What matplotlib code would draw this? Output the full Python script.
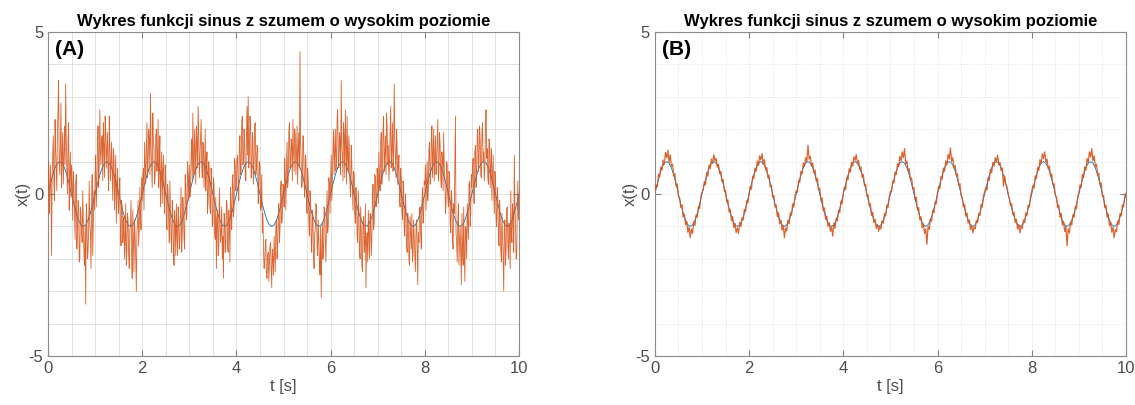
import matplotlib
matplotlib.use("Agg")
import matplotlib.pyplot as plt
import numpy as np
from matplotlib.ticker import MultipleLocator

plt.rcParams['font.family'] = ['Liberation Sans', 'DejaVu Sans']
plt.rcParams['axes.unicode_minus'] = False

title = "Wykres funkcji sinus z szumem o wysokim poziomie"
panel_tags = ["(A)", "(B)"]
x_ticks = [0, 2, 4, 6, 8, 10]
y_ticks = [-5, 0, 5]

# clean sine, sampled every 0.05 s
clean = [
    0, .309, .588, .809, .951, 1, .951, .809, .588, .309, 0, -.309, -.588, -.809, -.951, -1, -.951, -.809, -.588, -.309,
    0, .309, .588, .809, .951, 1, .951, .809, .588, .309, 0, -.309, -.588, -.809, -.951, -1, -.951, -.809, -.588, -.309,
    0, .309, .588, .809, .951, 1, .951, .809, .588, .309, 0, -.309, -.588, -.809, -.951, -1, -.951, -.809, -.588, -.309,
    0, .309, .588, .809, .951, 1, .951, .809, .588, .309, 0, -.309, -.588, -.809, -.951, -1, -.951, -.809, -.588, -.309,
    0, .309, .588, .809, .951, 1, .951, .809, .588, .309, 0, -.309, -.588, -.809, -.951, -1, -.951, -.809, -.588, -.309,
    0, .309, .588, .809, .951, 1, .951, .809, .588, .309, 0, -.309, -.588, -.809, -.951, -1, -.951, -.809, -.588, -.309,
    0, .309, .588, .809, .951, 1, .951, .809, .588, .309, 0, -.309, -.588, -.809, -.951, -1, -.951, -.809, -.588, -.309,
    0, .309, .588, .809, .951, 1, .951, .809, .588, .309, 0, -.309, -.588, -.809, -.951, -1, -.951, -.809, -.588, -.309,
    0, .309, .588, .809, .951, 1, .951, .809, .588, .309, 0, -.309, -.588, -.809, -.951, -1, -.951, -.809, -.588, -.309,
    0, .309, .588, .809, .951, 1, .951, .809, .588, .309, 0, -.309, -.588, -.809, -.951, -1, -.951, -.809, -.588, -.309,
    0,
]

# measured signal, strong noise, sampled every 0.0125 s (one row = half a second)
noisy_high = [
    0.2, 1.0, -0.6, -0.1, 0.9, 0.3, -1.9, 0.5, 1.1, 1.8, 0.4, -0.2, 2.3, 1.4, 0.8, 0.1, 1.9, 2.6, 3.5, 1.0, 0.6, 1.5, 2.8, 0.2, 1.2, 1.9, 0.3, 1.1, 2.1, 0.9, 3.4, 1.7, 0.7, 0.0, 1.6, 2.2, -0.5, 0.6, 1.3, -0.1,
    0.9, 0.2, -0.8, 0.7, 0.2, -0.6, -1.4, 0.3, 0.6, -1.7, -1.1, -0.2, -0.3, -2.1, -2.0, -0.4, -0.6, -1.2, -1.5, 0.1, -0.9, -1.8, -2.2, -1.0, -3.4, -0.3, -0.7, -2.0, -1.8, -1.1, 0.4, -0.9, -1.2, -2.3, -0.3, 0.6, -1.9, -0.8, 0.1, -0.5,
    0.6, 1.2, -0.4, 0.3, 1.5, 2.1, 0.2, 0.9, 2.6, 1.3, 0.9, 1.7, 1.8, 0.4, 2.2, 1.5, 0.5, 2.4, 2.0, 0.8, 1.3, 1.9, 0.7, 0.1, 2.4, 1.5, 0.4, 1.0, 1.6, 0.6, -0.2, 1.4, 1.1, -0.5, 0.3, 1.2, -0.9, 0.1, 0.8, -0.3,
    -0.6, 0.2, 0.5, -1.1, -1.6, -0.2, -0.4, -1.5, -1.2, -0.7, -2.0, -1.4, -0.3, -2.2, -1.7, -0.6, -0.8, -1.9, -2.3, -1.1, -1.0, -0.2, -1.9, -2.6, -0.5, -1.4, -2.4, -0.8, -1.3, -2.0, -3.0, -1.2, -0.9, -0.2, -1.6, -1.0, 0.2, -0.7, -1.1, 0.5,
    -0.2, 0.6, 0.8, -0.5, 1.6, 0.9, 0.3, 1.4, 2.2, 0.5, 1.0, 2.0, 1.7, 0.6, 3.1, 1.5, 0.9, 0.2, 2.5, 1.6, 1.4, 0.3, 0.6, 1.8, 2.0, 0.7, 1.2, 2.3, 0.2, 0.9, 1.8, -0.4, 0.5, 1.3, -0.3, 0.7, 1.2, 0.0, -0.6, 0.9,
    0.4, -0.7, -1.1, 0.3, 0.1, -0.9, -1.5, 0.4, -0.4, -1.3, -1.8, -0.2, -0.7, -1.6, -2.2, -0.5, -1.0, -1.9, -0.3, -1.2, -1.9, -0.4, -0.8, -1.7, -1.4, -0.6, 0.2, -1.8, -1.2, -0.1, -0.5, -1.4, -1.7, 0.6, 0.3, -0.8, -0.6, 1.0, 0.5, -0.2,
    0.9, -0.1, 0.2, 1.2, 1.7, 0.4, 2.5, 1.1, 0.6, 2.0, 1.4, 0.3, 2.1, 1.6, 0.8, 2.7, 1.9, 0.5, 1.1, 1.8, 2.3, 0.9, 0.5, 1.6, 1.5, 0.2, 0.9, 2.0, 0.1, 0.8, 1.3, -0.6, -0.2, 1.0, 0.7, -0.4, -0.6, 0.8, 0.4, -1.0,
    -0.9, 0.5, 0.3, -1.2, -1.4, -0.1, -2.3, -0.8, -0.5, -1.9, -1.7, 0.2, -0.8, -1.5, -1.2, -0.4, -2.0, -1.3, -2.6, -0.6, -0.7, -1.8, -1.5, -0.2, -0.3, -1.6, -1.8, -0.5, -0.9, -2.1, 0.2, -0.6, -1.1, 0.4, 0.6, -0.7, -0.4, 1.1, 0.9, 0.1,
    0.3, 1.1, 1.2, 0.2, -0.2, 1.5, 1.8, 0.6, 0.7, 2.2, 2.4, 0.9, 1.0, 2.0, 1.6, 0.5, 0.4, 1.8, 2.7, 1.2, 3.0, 0.8, 1.3, 2.4, 2.1, 0.5, 0.6, 1.9, 1.7, 0.3, 1.0, 2.1, 2.2, 0.6, 0.8, 1.5, 1.4, -0.3, 0.2, 1.0,
    0.9, -0.5, -0.4, 0.6, -1.2, -0.6, -1.7, -2.3, -2.1, -1.6, -1.4, -2.5, -2.6, -1.9, -1.8, -2.7, -2.2, -1.6, -1.5, -2.3, -2.9, -1.7, -2.0, -2.5, -1.3, -1.9, -2.4, -1.0, -0.8, -2.0, -1.6, -0.7, -0.3, -1.5, -1.1, 0.2, 0.4, -0.9, -0.6, 0.3,
    0.2, -0.4, 1.1, 0.6, -0.5, 0.9, 1.6, 0.2, 0.4, 1.9, 2.2, 0.8, 0.9, 1.7, 1.5, 0.4, 2.3, 1.3, 0.7, 2.0, 1.8, 0.6, 1.2, 2.1, 0.3, 1.4, 1.9, 0.8, 4.4, 1.6, 1.0, 0.2, 0.5, 1.8, 1.7, 0.3, -0.1, 1.2, 1.1, -0.3,
    -0.6, 0.8, 0.4, -0.9, -1.3, 0.1, -0.2, -1.5, -1.8, -0.5, -0.7, -2.0, -2.3, -1.2, -1.1, -0.3, -0.4, -1.6, -1.9, -0.8, -1.4, -2.2, -2.5, -1.0, -3.2, -1.8, -0.9, -2.0, -1.7, -0.4, -0.6, -1.5, -2.1, -0.8, 0.1, -1.2, -1.0, 0.5, 0.3, -0.6,
    0.5, 1.2, -0.2, 0.4, 1.4, 2.0, 0.6, 1.3, 2.0, 0.7, 1.1, 2.3, 2.6, 1.0, 0.8, 1.9, 1.7, 0.6, 3.5, 1.5, 1.2, 0.4, 2.2, 1.8, 0.5, 2.6, 1.6, 0.3, 2.4, 1.1, 0.7, 1.8, 1.3, 0.2, -0.1, 1.5, 0.9, 0.1, -0.5, 0.7,
    0.6, -0.6, -0.9, 0.2, -0.2, -1.3, -1.5, 0.1, -0.6, -1.7, -2.0, -0.4, -1.1, -2.2, -2.4, -0.9, -0.7, -1.8, -1.6, -0.3, -2.9, -1.5, -1.2, -2.1, -0.5, -1.3, -2.0, -0.6, -0.8, -1.9, -1.4, -0.2, 0.3, -1.1, -0.9, 0.6, 0.5, -0.4, -0.3, 0.8,
    0.4, -0.3, 1.3, 0.5, 0.1, 1.6, 1.9, 0.3, 0.8, 2.0, 2.4, 0.7, 1.2, 1.8, 0.6, 2.5, 2.1, 0.9, 1.5, 0.4, 0.9, 1.9, 2.7, 0.8, 1.4, 2.2, 0.7, 1.3, 3.4, 1.7, 1.1, 0.5, 2.0, 1.4, 0.3, 0.9, 1.2, -0.2, -0.4, 0.8,
    0.5, -0.5, -0.8, 0.4, 0.2, -1.1, -1.3, 0.0, -0.5, -1.6, -1.8, -0.6, -0.9, -2.0, -2.2, -0.7, -1.2, -1.7, -0.6, -2.1, -1.9, -0.8, -1.3, -1.9, -2.4, -1.1, -0.8, -1.6, -2.8, -1.2, -1.5, -0.5, -0.4, -1.3, -1.7, -0.3, 0.2, -0.9, -0.7, 0.4,
    0.3, 0.9, -0.5, 0.4, 1.0, -0.2, 0.2, 1.4, 1.6, 0.3, 0.6, 1.7, 2.1, 0.5, 1.2, 2.0, 0.4, 1.1, 1.8, 0.6, 1.0, 1.6, 2.3, 0.4, 0.7, 1.9, 1.5, 0.5, 0.2, 1.3, 1.1, 0.1, 1.9, 0.8, 0.5, -0.6, -0.3, 1.0, 0.9, -0.1,
    -0.4, 0.7, 0.6, -0.9, -1.2, 0.1, -0.2, -1.4, -1.7, -0.3, -0.6, 0.8, 2.4, -1.2, -1.5, -2.1, -0.9, -0.3, -2.2, -1.4, -1.0, -1.9, -2.8, -0.6, -1.6, -2.2, -0.4, -1.8, -2.7, -1.0, -1.1, -2.0, -0.3, -0.9, -1.4, 0.3, 0.4, -1.0, -0.6, 0.6,
    0.2, 0.8, 1.1, -0.2, -0.3, 1.3, 1.5, 0.2, 0.6, 1.8, 2.0, 0.7, 1.0, 2.1, 1.7, 0.6, 0.5, 1.9, 2.2, 1.0, 1.3, 0.4, 0.8, 2.0, 2.6, 1.1, 1.4, 0.5, 0.3, 1.7, 1.6, 0.2, 0.9, 1.4, -0.2, 0.6, 1.2, 0.0, -0.6, 0.7,
    0.5, -0.7, -1.0, 0.2, -0.1, -1.3, -1.6, -0.2, -0.7, -1.8, -2.1, -0.6, -1.2, -1.9, -3.0, -1.0, -0.8, -2.2, -1.7, -0.5, -0.4, -1.6, -2.0, -0.9, -1.3, -2.3, 0.1, -1.2, -1.5, -0.3, -0.6, -1.8, 1.2, -0.4, -0.9, -2.0, -2.0, -0.5, 0.4, -0.8,
    0.0,
]

# measured signal, weak noise, sampled every 0.025 s
noisy_low = [
    0.05, 0.28, 0.22, 0.61, 0.52, 0.83, 0.74, 1.05, 0.92, 1.28, 1.12, 1.35, 0.98, 1.21, 0.86, 0.92, 0.55, 0.63, 0.24, 0.31,
    -0.08, -0.12, -0.42, -0.33, -0.71, -0.62, -0.95, -0.84, -1.18, -1.02, -1.35, -1.08, -1.22, -0.86, -0.97, -0.64, -0.72, -0.38, -0.45, -0.09,
    0.06, 0.12, 0.38, 0.29, 0.66, 0.55, 0.90, 0.78, 1.08, 0.94, 1.21, 1.02, 1.10, 0.83, 0.92, 0.63, 0.70, 0.38, 0.44, 0.08,
    0.12, -0.25, -0.18, -0.56, -0.48, -0.82, -0.70, -1.04, -0.91, -1.19, -1.05, -1.22, -0.88, -1.01, -0.73, -0.80, -0.47, -0.55, -0.20, -0.28,
    0.03, 0.24, 0.15, 0.55, 0.47, 0.80, 0.70, 1.02, 0.88, 1.18, 1.05, 1.25, 0.91, 1.06, 0.74, 0.82, 0.50, 0.58, 0.22, 0.27,
    -0.10, -0.05, -0.40, -0.34, -0.70, -0.58, -0.92, -0.80, -1.12, -0.97, -1.35, -1.05, -1.14, -0.80, -0.92, -0.58, -0.66, -0.30, -0.40, -0.05,
    0.10, 0.05, 0.42, 0.36, 0.70, 0.62, 0.96, 0.85, 1.12, 1.00, 1.50, 1.08, 1.16, 0.86, 0.95, 0.66, 0.74, 0.40, 0.48, 0.12,
    0.18, -0.20, -0.12, -0.52, -0.43, -0.78, -0.68, -1.00, -0.88, -1.15, -1.02, -1.30, -0.90, -1.06, -0.74, -0.83, -0.50, -0.57, -0.22, -0.30,
    0.02, 0.22, 0.14, 0.52, 0.44, 0.78, 0.68, 0.98, 0.86, 1.15, 1.04, 1.22, 0.93, 1.03, 0.76, 0.84, 0.52, 0.60, 0.26, 0.30,
    -0.06, -0.02, -0.36, -0.30, -0.66, -0.56, -0.88, -0.78, -1.06, -0.94, -1.15, -1.00, -1.08, -0.82, -0.90, -0.60, -0.68, -0.34, -0.42, -0.08,
    0.08, 0.06, 0.40, 0.34, 0.68, 0.60, 0.94, 0.84, 1.16, 1.02, 1.30, 1.12, 1.40, 0.92, 1.02, 0.72, 0.78, 0.44, 0.50, 0.16,
    0.20, -0.18, -0.10, -0.50, -0.42, -0.80, -0.70, -1.04, -0.92, -1.22, -1.08, -1.55, -1.00, -1.10, -0.76, -0.84, -0.50, -0.58, -0.24, -0.30,
    0.04, 0.24, 0.16, 0.54, 0.46, 0.80, 0.70, 1.02, 0.90, 1.22, 1.08, 1.42, 1.00, 1.12, 0.80, 0.88, 0.56, 0.62, 0.26, 0.32,
    -0.04, -0.10, -0.40, -0.32, -0.68, -0.58, -0.90, -0.80, -1.10, -0.96, -1.20, -1.02, -1.08, -0.82, -0.88, -0.60, -0.66, -0.32, -0.40, -0.06,
    0.06, 0.20, 0.12, 0.50, 0.42, 0.76, 0.66, 0.98, 0.86, 1.12, 1.00, 1.20, 0.90, 0.98, 0.72, 0.80, 0.24, 0.56, 0.30, 0.22,
    -0.02, -0.12, -0.36, -0.30, -0.64, -0.56, -0.88, -0.78, -1.08, -0.94, -1.20, -1.00, -1.06, -0.80, -0.88, -0.58, -0.66, -0.34, -0.40, -0.08,
    0.08, 0.26, 0.18, 0.56, 0.48, 0.82, 0.72, 1.06, 0.94, 1.24, 1.10, 1.30, 0.98, 1.08, 0.78, 0.86, 0.54, 0.62, 0.28, 0.32,
    -0.04, -0.08, -0.42, -0.34, -0.72, -0.60, -0.96, -0.84, -1.16, -1.00, -1.60, -1.08, -1.20, -0.86, -0.96, -0.64, -0.72, -0.38, -0.46, -0.10,
    0.04, 0.28, 0.20, 0.60, 0.50, 0.84, 0.74, 1.10, 0.96, 1.30, 1.14, 1.40, 1.02, 1.18, 0.84, 0.92, 0.58, 0.64, 0.28, 0.34,
    -0.06, -0.04, -0.42, -0.34, -0.72, -0.62, -0.98, -0.86, -1.18, -1.02, -1.35, -1.10, -1.16, -0.84, -0.94, -0.60, -0.68, -0.34, -0.40, -0.08,
    0.02,
]

BLUE = "#0072BD"
ORANGE = "#D95319"
TEXT = "#4d4d4d"

t_clean = np.linspace(0, 10, len(clean))
t_high = np.linspace(0, 10, len(noisy_high))
t_low = np.linspace(0, 10, len(noisy_low))

fig = plt.figure(figsize=(11.35, 4.05), dpi=100)
ax_a = fig.add_axes([0.0423, 0.121, 0.415, 0.800])
ax_b = fig.add_axes([0.577, 0.121, 0.415, 0.800])

panels = [(ax_a, t_high, noisy_high, '-', 0.6), (ax_b, t_low, noisy_low, ':', 0.9)]

for (ax, t, x, grid_ls, lw), tag in zip(panels, panel_tags):
    ax.plot(t_clean, clean, color=BLUE, lw=0.6, zorder=2)
    ax.plot(t, x, color=ORANGE, lw=lw, alpha=0.9, zorder=3)

    ax.set_xlim(0, 10)
    ax.set_ylim(-5, 5)
    ax.set_xticks(x_ticks)
    ax.set_yticks(y_ticks)
    ax.xaxis.set_minor_locator(MultipleLocator(0.5))
    ax.yaxis.set_minor_locator(MultipleLocator(1))
    ax.grid(which='both', color='#dcdcdc', lw=0.6, ls=grid_ls, zorder=0)
    ax.set_axisbelow(True)

    ax.tick_params(which='both', direction='in', top=True, right=True,
                   colors='#7f7f7f', labelcolor=TEXT, labelsize=12)
    ax.tick_params(which='major', length=4)
    ax.tick_params(which='minor', length=0)
    for s in ax.spines.values():
        s.set_color('#8c8c8c')
        s.set_linewidth(0.8)

    ax.set_title(title, fontsize=12, fontweight='bold', pad=4)
    ax.set_xlabel("t [s]", fontsize=12, color=TEXT, labelpad=2)
    ax.set_ylabel("x(t)", fontsize=12, color=TEXT, labelpad=-2)
    ax.text(0.015, 0.975, tag, transform=ax.transAxes, fontsize=15,
            fontweight='bold', va='top', ha='left', zorder=5)

fig.savefig("out.png", dpi=100)
